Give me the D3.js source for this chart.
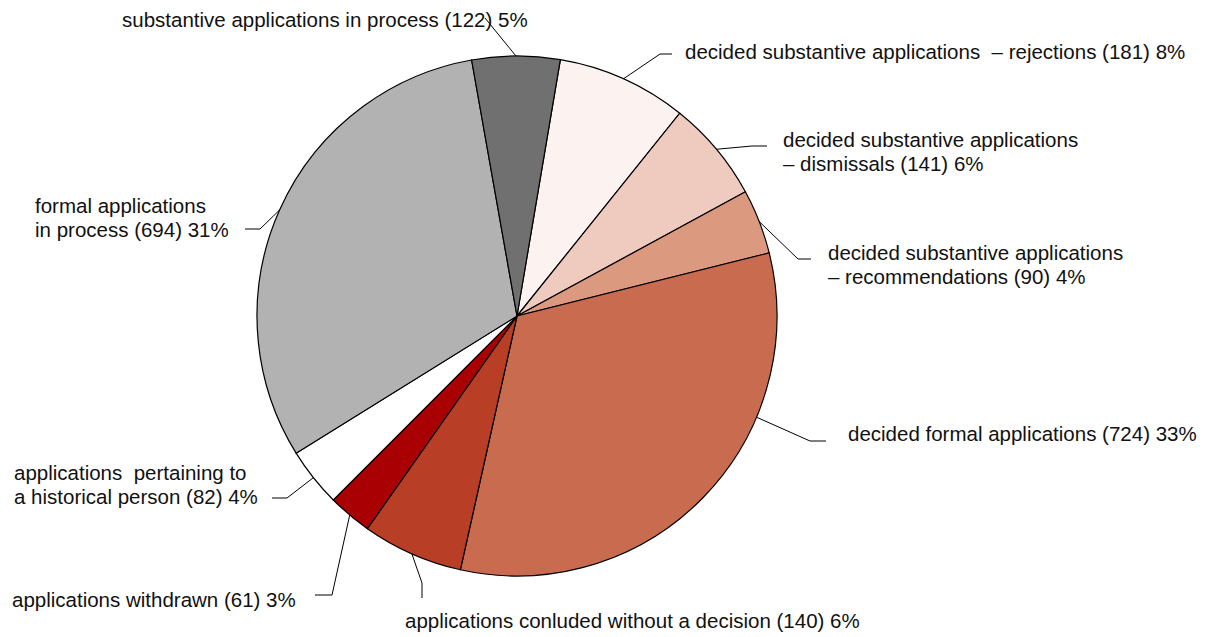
<!DOCTYPE html>
<html lang="en">
<head>
  <meta charset="UTF-8">
  <title>Applications pie</title>
  <script src="https://d3js.org/d3.v7.min.js"></script>
  <style>
    body, html {
      margin: 0;
      padding: 0;
      background: #fff;
    }
    svg {
      display: block;
    }
    .slice {
      stroke: #000;
      stroke-width: 1.2px;
    }
    .leader {
      fill: none;
      stroke: #000;
      stroke-width: 1px;
    }
    .label {
      font-family: "Liberation Sans", Arial, sans-serif;
      font-size: 20.5px;
      fill: #111;
      white-space: pre;
    }
  </style>
</head>
<body>
  <svg id="chart" width="1214" height="637"></svg>

  <script>
    // Slices, clockwise, starting just right of 12 o'clock
    const categories = [
      "decided substantive applications  – rejections",
      "decided substantive applications\n– dismissals",
      "decided substantive applications\n– recommendations",
      "decided formal applications",
      "applications conluded without a decision",
      "applications withdrawn",
      "applications  pertaining to\na historical person",
      "formal applications\nin process",
      "substantive applications in process"
    ];
    const values = [181, 141, 90, 724, 140, 61, 82, 694, 122];
    const percents = [8, 6, 4, 33, 6, 3, 4, 31, 5];
    const colors = ["#fcf2ef", "#efcbbf", "#db9a80", "#c96b4e", "#b83f25",
                    "#a80003", "#ffffff", "#b2b2b2", "#707070"];

    // Label placement (text start, first baseline, elbow and end of leader line)
    const labelLayout = [
      { x: 685, y: 59,  elbow: [660, 54],  end: [672, 54] },
      { x: 783, y: 147, elbow: [752, 146], end: [767, 146] },
      { x: 828, y: 260, elbow: [798, 259], end: [811, 259] },
      { x: 848, y: 441, elbow: [810, 441], end: [826, 441], angle: 112.9 },
      { x: 405, y: 628, elbow: [422, 583], end: [422, 598] },
      { x: 12,  y: 607, elbow: [332, 595], end: [315, 595] },
      { x: 14,  y: 480, elbow: [287, 498], end: [272, 498] },
      { x: 35,  y: 213, elbow: [260, 229], end: [245, 229] },
      { x: 122, y: 27,  elbow: [485, 18],  end: [485, 18] }
    ];

    const cx = 517, cy = 316, radius = 260;
    const start = 9.6 * Math.PI / 180;
    const lineHeight = 23.5;

    const svg = d3.select("#chart");
    const g = svg.append("g").attr("transform", `translate(${cx},${cy})`);

    const pie = d3.pie()
      .value(d => d)
      .sort(null)
      .startAngle(start)
      .endAngle(start + 2 * Math.PI);

    const arc = d3.arc()
      .innerRadius(0)
      .outerRadius(radius);

    const arcs = pie(values);

    g.selectAll(".slice")
      .data(arcs)
      .enter().append("path")
      .attr("class", "slice")
      .attr("d", arc)
      .attr("fill", (d, i) => colors[i]);

    // leader lines from the rim to the labels
    arcs.forEach((d, i) => {
      const lay = labelLayout[i];
      const a = lay.angle !== undefined ? lay.angle * Math.PI / 180 : (d.startAngle + d.endAngle) / 2;
      const p0 = [cx + radius * Math.sin(a), cy - radius * Math.cos(a)];
      svg.append("polyline")
        .attr("class", "leader")
        .attr("points", [p0, lay.elbow, lay.end].map(p => p.join(",")).join(" "));

      const lines = categories[i].split("\n");
      lines[lines.length - 1] += ` (${values[i]}) ${percents[i]}%`;
      const t = svg.append("text")
        .attr("class", "label")
        .attr("x", lay.x)
        .attr("y", lay.y);
      lines.forEach((ln, j) => {
        t.append("tspan")
          .attr("x", lay.x)
          .attr("y", lay.y + j * lineHeight)
          .text(ln);
      });
    });
  </script>
</body>
</html>
